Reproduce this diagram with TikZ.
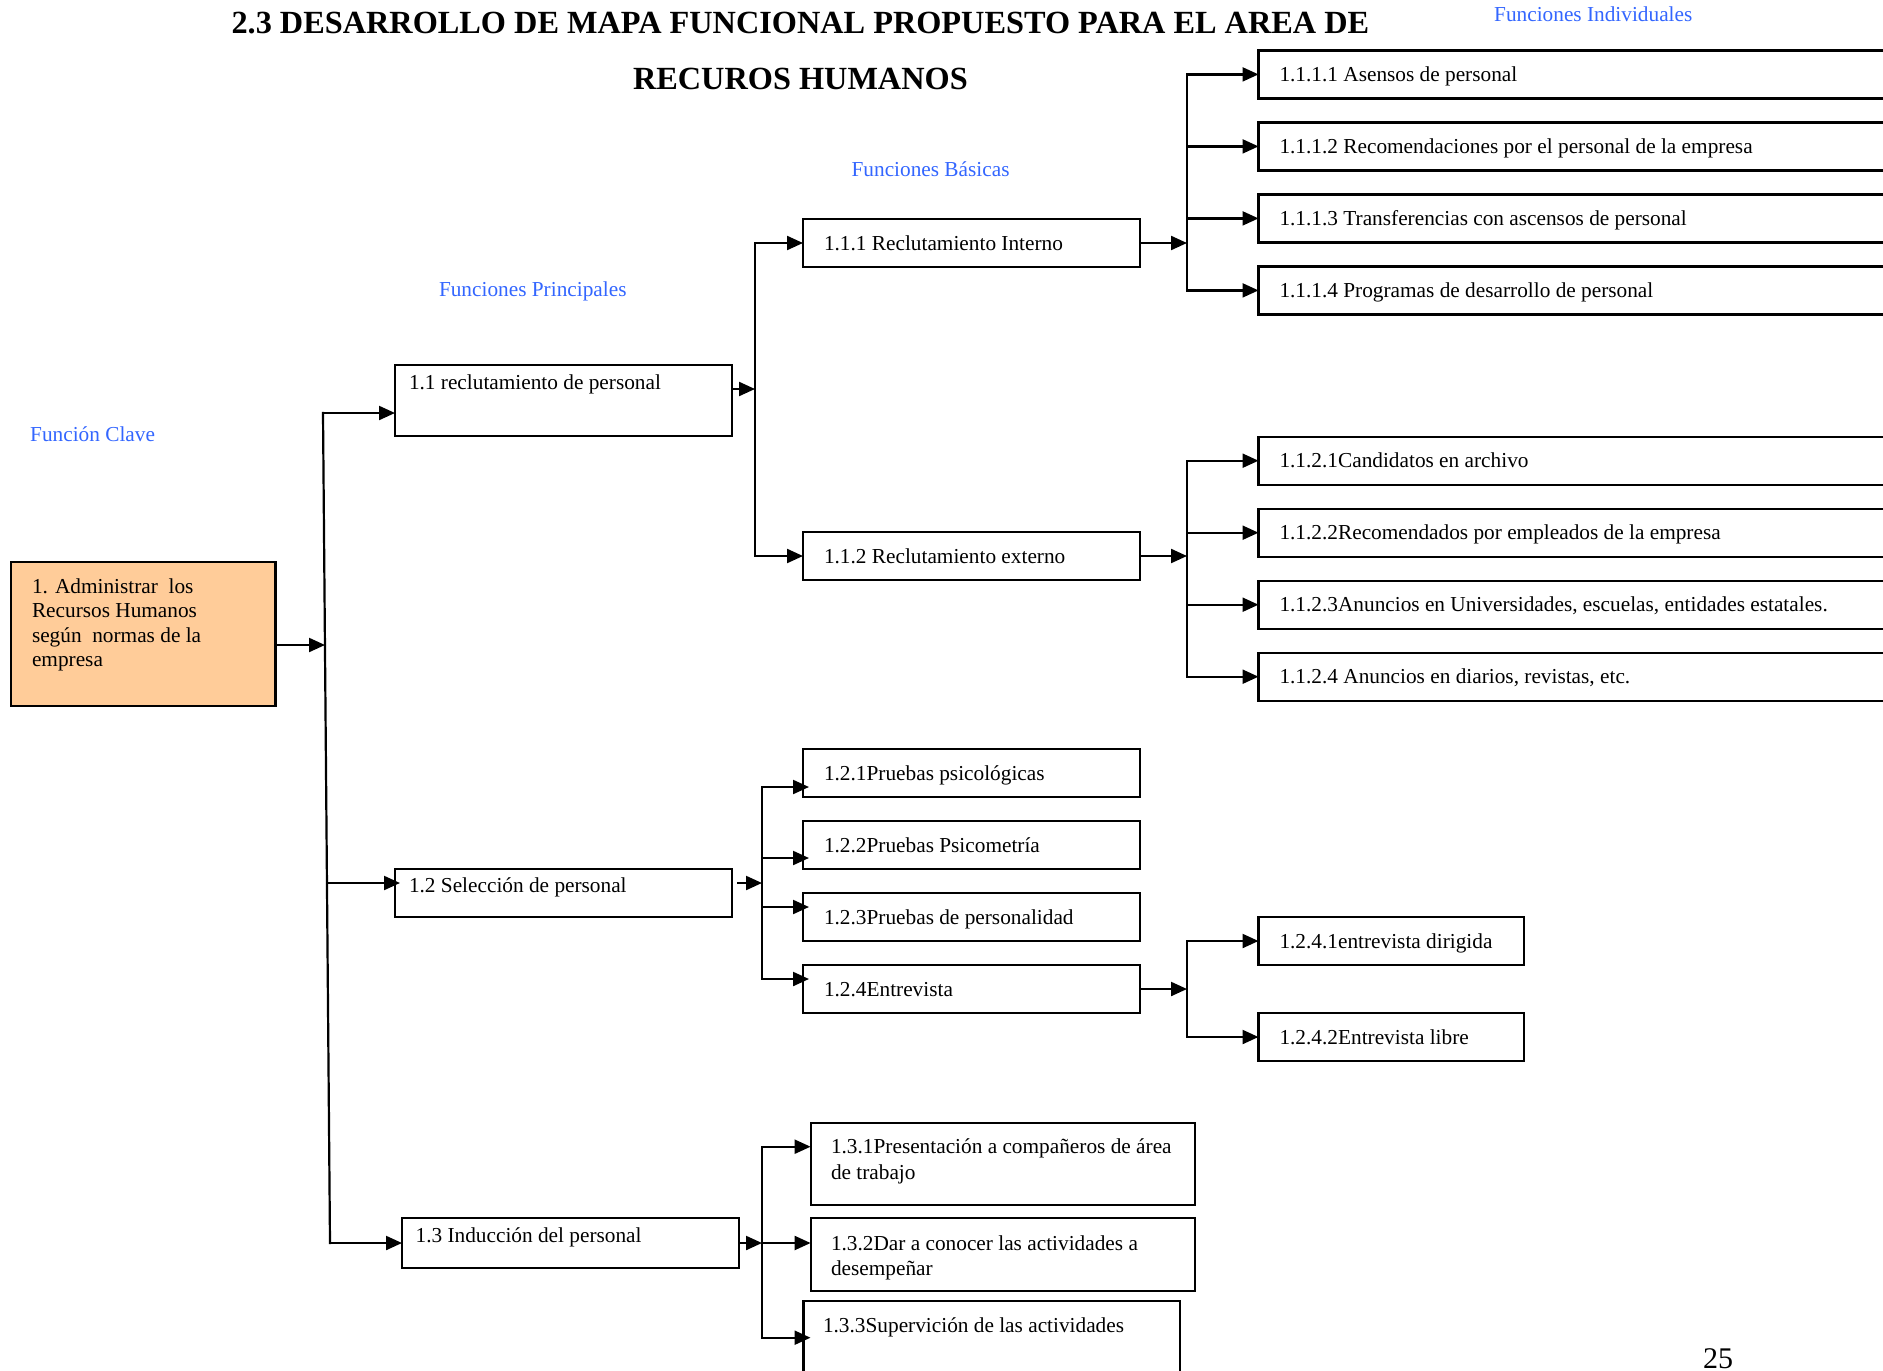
\documentclass[tikz,border=0pt]{standalone}
\usepackage{fontspec}
\setmainfont{Liberation Serif}
\usetikzlibrary{arrows.meta,calc}
\definecolor{peach}{HTML}{FFCC99}
\definecolor{capblue}{HTML}{3366FF}
% fixed-width cell with left padding
\newcommand\cellbox[3]{\makebox[#1pt][l]{\hspace{#2pt}#3}}
% stacked lines, baseline on the first line
\newcommand\lns[1]{\vtop{\halign{##\hfil\cr#1\crcr}}}
\begin{document}
\begin{tikzpicture}[x=1pt,y=-1pt,
  fbox/.style={draw, line width=2.2pt, rectangle, anchor=north west,
    inner sep=0pt, outer sep=0pt, font=\fontsize{21.3}{24.6}\selectfont},
  lvl/.style={fbox, text height=31pt, text depth=17pt},
  titletext/.style={inner sep=0pt, anchor=base, font=\fontsize{32.3}{38}\selectfont\bfseries},
  captext/.style={inner sep=0pt, anchor=base west, text=capblue, font=\fontsize{21.3}{25}\selectfont},
  conn/.style={line width=2.2pt, line cap=rect},
  arr/.style={conn, -{Triangle[length=16pt,width=14pt]}}]
\useasboundingbox (0,0) rectangle (1883,1371);
\fill[white] (0,0) rectangle (1883,1371);
\clip (0,0) rectangle (1883,1371);

% heading
\node[titletext] (t1) at (800.4,33.6) {2.3 DESARROLLO DE MAPA FUNCIONAL PROPUESTO PARA EL AREA DE};
\node[titletext] (t2) at (800.4,89) {RECUROS HUMANOS};

% column captions
\node[captext] (cInd) at (1494,21) {Funciones Individuales};
\node[captext] (cBas) at (851.4,176) {Funciones Básicas};
\node[captext] (cPri) at (438.8,296) {Funciones Principales};
\node[captext] (cCla) at (30,441) {Función Clave};

% key function
\node[fbox, fill=peach, text height=31pt, text depth=113pt] (b1) at (11,562)
  {\cellbox{264.5}{21}{\lns{1. Administrar\ \ los\cr Recursos Humanos\cr según\ \ normas de la\cr empresa}}};

% main functions
\node[fbox, text height=24pt, text depth=47pt] (b11) at (395,365) {\cellbox{337}{14}{1.1 reclutamiento de personal}};
\node[fbox, text height=23.9pt, text depth=23.8pt] (b12) at (395,869) {\cellbox{337}{14}{1.2 Selección de personal}};
\node[fbox, text height=24.2pt, text depth=25.8pt] (b13) at (402,1218) {\cellbox{337}{13.6}{1.3 Inducción del personal}};

% basic functions
\node[fbox, text height=31pt, text depth=17pt] (b111) at (803,219) {\cellbox{337}{21}{1.1.1 Reclutamiento Interno}};
\node[lvl] (b112) at (803,532) {\cellbox{337}{21}{1.1.2 Reclutamiento externo}};
\node[lvl] (b121) at (803,749) {\cellbox{337}{21}{1.2.1Pruebas psicológicas}};
\node[lvl] (b122) at (803,821) {\cellbox{337}{21}{1.2.2Pruebas Psicometría}};
\node[lvl] (b123) at (803,893) {\cellbox{337}{21}{1.2.3Pruebas de personalidad}};
\node[lvl] (b124) at (803,965) {\cellbox{337}{21}{1.2.4Entrevista}};
\node[fbox, text height=30.8pt, text depth=51.5pt] (b131) at (810.6,1122.7)
  {\cellbox{384}{20.4}{\baselineskip=26.4pt\lns{1.3.1Presentación a compañeros de área\cr de trabajo}}};
\node[fbox, text height=32.4pt, text depth=40.6pt] (b132) at (810.6,1218)
  {\cellbox{384}{20.4}{\lns{1.3.2Dar a conocer las actividades a\cr desempeñar}}};
\node[fbox, text height=31.7pt, text depth=67.6pt] (b133) at (803.5,1300.7)
  {\cellbox{376.5}{19.5}{1.3.3Supervición de las actividades}};

% individual functions
\node[lvl] (b1111) at (1258.5,50.4) {\cellbox{640}{21}{1.1.1.1 Asensos de personal}};
\node[lvl] (b1112) at (1258.5,122.4) {\cellbox{640}{21}{1.1.1.2 Recomendaciones por el personal de la empresa}};
\node[lvl] (b1113) at (1258.5,194.4) {\cellbox{640}{21}{1.1.1.3 Transferencias con ascensos de personal}};
\node[lvl] (b1114) at (1258.5,266.4) {\cellbox{640}{21}{1.1.1.4 Programas de desarrollo de personal}};
\node[lvl] (b1121) at (1258.5,436.7) {\cellbox{640}{21}{1.1.2.1Candidatos en archivo}};
\node[lvl] (b1122) at (1258.5,508.7) {\cellbox{640}{21}{1.1.2.2Recomendados por empleados de la empresa}};
\node[lvl] (b1123) at (1258.5,580.7) {\cellbox{640}{21}{1.1.2.3Anuncios en Universidades, escuelas, entidades estatales.}};
\node[lvl] (b1124) at (1258.5,652.7) {\cellbox{640}{21}{1.1.2.4 Anuncios en diarios, revistas, etc.}};
\node[lvl] (b1241) at (1258.5,917) {\cellbox{265.5}{21}{1.2.4.1entrevista dirigida}};
\node[lvl] (b1242) at (1258.5,1013) {\cellbox{265.5}{21}{1.2.4.2Entrevista libre}};

% page number
\node[inner sep=0pt, anchor=base west, font=\fontsize{30}{36}\selectfont] (pg) at (1703,1368) {25};

% trunk from the key function
\coordinate (kA) at (323,413);
\coordinate (kB) at (330,1243);
\coordinate (k0) at (325,645);
\coordinate (k12) at (327,883);
\draw[conn] (kA) -- (kB);
\draw[arr] ($(b1.north east)+(0,83)$) -- (k0);
\draw[arr] (kA) -- (kA -| b11.west);
\draw[arr] (k12) -- ($(k12 -| b12.west)+(5,0)$);
\draw[arr] (kB) -- (kB -| b13.west);

% vertical rails
\coordinate (x2) at (755,0);
\coordinate (x3) at (1187,0);
\coordinate (x4) at (762,0);

% 1.1 -> basic functions
\coordinate (m1) at ($(b11.north east)+(0,24)$);
\draw[arr] (m1) -- (m1 -| x2);
\draw[arr] (b112.west -| x2) |- (b111.west);
\draw[arr] (b111.west -| x2) |- (b112.west);

% 1.1.1 -> individual functions
\draw[arr] (b111.east) -- (b111.east -| x3);
\draw[arr] (b1114.west -| x3) |- (b1111.west);
\draw[arr] (b1111.west -| x3) |- (b1114.west);
\draw[arr] (b1112.west -| x3) -- (b1112.west);
\draw[arr] (b1113.west -| x3) -- (b1113.west);

% 1.1.2 -> individual functions
\draw[arr] (b112.east) -- (b112.east -| x3);
\draw[arr] (b1124.west -| x3) |- (b1121.west);
\draw[arr] (b1121.west -| x3) |- (b1124.west);
\draw[arr] (b1122.west -| x3) -- (b1122.west);
\draw[arr] (b1123.west -| x3) -- (b1123.west);

% 1.2 -> basic functions
\coordinate (m2) at ($(b12.north east)+(6,14)$);
\coordinate (e121) at ($(b121.north west)+(6,38)$);
\coordinate (e122) at ($(b122.north west)+(6,37)$);
\coordinate (e123) at ($(b123.north west)+(6,14)$);
\coordinate (e124) at ($(b124.north west)+(6,14)$);
\draw[arr] (m2) -- (m2 -| x4);
\draw[arr] (e124 -| x4) |- (e121);
\draw[arr] (e121 -| x4) |- (e124);
\draw[arr] (e122 -| x4) -- (e122);
\draw[arr] (e123 -| x4) -- (e123);

% 1.2.4 -> individual functions
\draw[arr] (b124.east) -- (b124.east -| x3);
\draw[arr] (b1242.west -| x3) |- (b1241.west);
\draw[arr] (b1241.west -| x3) |- (b1242.west);

% 1.3 -> basic functions
\coordinate (e131) at ($(b131.north west)+(0,24)$);
\coordinate (e132) at ($(b132.north west)+(0,25)$);
\coordinate (e133) at ($(b133.north west)+(7,37)$);
\draw[arr] (b13.east) -- (b13.east -| x4);
\draw[arr] (e133 -| x4) |- (e131);
\draw[arr] (e131 -| x4) |- (e133);
\draw[arr] (e132 -| x4) -- (e132);
\end{tikzpicture}
\end{document}
